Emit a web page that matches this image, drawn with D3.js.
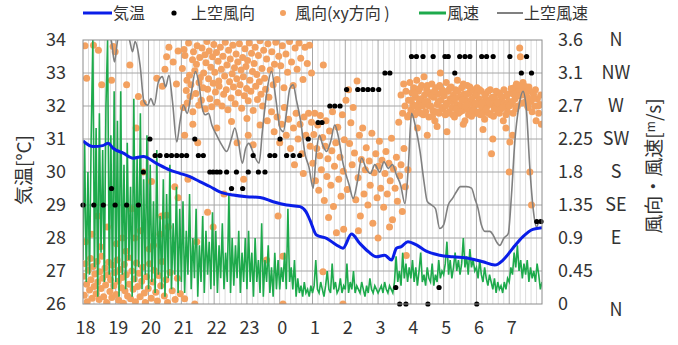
<!DOCTYPE html>
<html><head><meta charset="utf-8">
<script src="https://cdn.jsdelivr.net/npm/d3@7"></script>
<style>
body{margin:0;background:#fff}
svg{display:block}
text{font-family:"Noto Sans CJK JP","Noto Sans",sans-serif;fill:#333}
</style>
</head><body>
<svg id="c" width="678" height="345"></svg>
<script>
// ---------- DATA ----------
// time in hours after 18:00
const hourLabels = ["18","19","20","21","22","23","0","1","2","3","4","5","6","7"];
const tempTicks = [26,27,28,29,30,31,32,33,34];
const speedTicks = [0,0.45,0.9,1.35,1.8,2.25,2.7,3.15,3.6];
const speedTickLabels = ["0","0.45","0.9","1.35","1.8","2.25","2.7","3.1","3.6"];
const dirTickLabels = ["N","","E","SE","S","SW","W","NW","N"];

// 気温 (°C)
const tempT = [0,0.31,0.6,0.77,0.92,1.23,1.53,1.84,2.24,2.65,2.95,3.26,3.56,3.87,4.17,4.58,4.99,5.4,5.8,6.21,6.62,6.8,6.92,7.12,7.43,7.73,7.93,8.19,8.44,8.7,8.95,9.2,9.41,9.56,9.71,9.91,10.17,10.47,10.88,11.28,11.79,12.2,12.56,12.81,13.11,13.42,13.72,14];
const tempV = [30.94,30.77,30.8,30.87,30.72,30.57,30.42,30.47,30.26,30.06,29.96,29.86,29.71,29.56,29.4,29.3,29.25,29.23,29.1,29.0,28.95,28.8,28.55,28.09,27.99,27.79,27.69,28.12,27.84,27.59,27.43,27.48,27.33,27.69,27.74,27.89,27.79,27.6,27.48,27.43,27.38,27.28,27.18,27.33,27.69,28.04,28.26,28.31];

// 上空風速 (m/s)
const upperSpeedT = [0,0.4,0.78,0.88,0.96,1.04,1.15,1.3,1.43,1.51,1.59,1.66,1.74,1.86,1.97,2.07,2.17,2.3,2.42,2.52,2.62,2.73,2.86,2.96,3.06,3.18,3.31,3.43,3.54,3.63,3.73,3.83,3.93,4.08,4.23,4.38,4.53,4.63,4.74,4.86,4.96,5.06,5.16,5.26,5.37,5.47,5.6,5.75,5.88,6.01,6.11,6.21,6.31,6.41,6.51,6.64,6.77,6.89,7.02,7.12,7.21,7.31,7.43,7.55,7.68,7.78,7.94,8.12,8.24,8.37,8.5,8.63,8.77,8.9,9.05,9.18,9.31,9.44,9.56,9.69,9.82,9.92,10.02,10.15,10.28,10.4,10.5,10.63,10.75,10.88,11.0,11.14,11.27,11.39,11.51,11.7,11.85,11.95,12.05,12.15,12.26,12.41,12.51,12.61,12.71,12.84,12.97,13.07,13.17,13.3,13.42,13.52,13.63,13.73,13.83,13.94,14.0];
const upperSpeedV = [4.4,4.2,3.75,3.55,3.3,3.55,3.85,3.75,3.58,3.44,3.58,3.49,3.26,2.76,2.71,2.8,2.71,3.03,3.1,2.96,3.12,2.76,2.21,2.49,2.71,2.6,2.9,3.17,2.99,2.69,2.58,2.6,2.44,2.3,2.17,2.08,2.26,2.4,2.21,1.92,2.12,2.19,2.1,1.99,1.92,2.35,2.87,3.17,2.8,2.4,2.35,2.62,2.94,2.99,2.78,2.49,2.05,1.87,1.58,2.08,2.3,2.17,2.08,2.21,2.44,2.3,1.9,1.62,1.44,1.67,1.99,1.85,1.78,1.9,1.8,1.94,1.85,1.9,1.76,1.62,1.37,1.85,2.6,2.4,2.08,1.67,1.4,1.35,1.3,1.03,1.08,1.35,1.44,1.53,1.6,1.6,1.58,1.44,1.3,1.08,0.99,0.99,0.94,0.85,0.8,0.9,0.96,1.49,2.21,2.71,2.9,2.67,1.85,1.3,1.05,1.15,1.12];

// 風速 (m/s), 3-minute samples from 18:00, one row per hour
const windStep = 0.05;
const windSpeed = [
 0.6,2.2,0.3,1.8,0.4,2.3,3.6,0.5,2.4,0.1,2.6,0.7,2.1,0.3,2.7,3.6,0.4,2.3,0.2,2.9,
 0.3,2.5,0.1,2.9,0.4,1.9,0.2,2.2,0.6,1.6,0.1,2.8,0.3,2.0,0.5,2.6,0.2,1.7,0.4,2.3,
 0.2,1.9,0.3,1.4,0.15,2.1,0.4,1.2,0.2,1.7,0.1,1.5,0.35,1.9,0.2,1.1,0.4,1.6,0.15,1.3,
 0.3,1.4,0.15,1.0,0.4,1.5,0.2,0.9,0.35,1.3,0.1,0.8,0.3,1.2,0.15,1.0,0.4,0.85,0.2,1.25,
 0.25,1.0,0.15,0.8,0.35,1.1,0.2,0.7,0.3,1.5,0.15,0.9,0.25,0.8,0.35,1.0,0.15,0.7,0.3,0.9,
 0.2,1.0,0.3,0.7,0.1,0.9,0.3,0.6,0.15,1.1,0.1,0.6,0.3,0.8,0.15,0.5,0.1,0.7,0.2,0.6,
 0.2,0.5,0.3,0.7,0.2,1.3,0.3,0.5,0.2,0.6,0.1,0.35,0.15,0.25,0.1,0.3,0.15,0.2,0.1,0.25,
 0.15,0.25,0.6,0.2,0.15,0.3,0.2,0.1,0.25,0.45,0.2,0.15,0.55,0.2,0.3,0.15,0.2,0.35,0.15,0.25,
 0.2,0.55,0.15,0.3,0.2,0.45,0.15,0.25,0.2,0.15,0.3,0.2,0.1,0.25,0.15,0.35,0.2,0.15,0.25,0.2,
 0.15,0.2,0.25,0.15,0.3,0.2,0.15,0.25,0.2,0.15,0.3,0.65,0.3,0.45,0.25,0.7,0.35,0.55,0.3,0.5,
 0.35,0.6,0.3,0.5,0.25,0.45,0.7,0.3,0.4,0.25,0.5,0.35,0.3,0.55,0.25,0.4,0.3,0.6,0.35,0.45,
 0.4,0.55,0.85,0.4,0.6,0.35,0.5,0.7,0.45,0.6,0.4,0.55,0.9,0.5,0.65,0.4,0.75,0.5,0.6,0.45,
 0.5,0.35,0.6,0.4,0.3,0.5,0.35,0.25,0.4,0.3,0.2,0.35,0.15,0.3,0.2,0.25,0.15,0.3,0.2,0.35,
 0.3,0.5,0.4,0.7,0.5,0.8,0.45,0.6,0.35,0.55,0.4,0.6,0.3,0.5,0.35,0.45,0.3,0.55,0.4,0.2,
 0.3
];

// 上空風向 (direction on the right scale)
const upperDirT = [0,0.33,0.62,0.98,1.33,1.69,0.87,1.84,2.04,2.2,2.35,2.55,2.7,2.86,3.01,3.16,3.52,3.67,3.41,3.87,3.97,4.08,4.18,4.38,4.68,5.04,5.35,5.55,4.53,4.87,5.19,5.7,5.85,6.21,6.41,6.61,6.01,6.87,7.17,7.29,7.53,7.68,7.84,8.04,8.38,8.54,8.69,8.84,9.02,9.21,9.36,10.02,10.17,10.37,10.68,11.04,11.14,11.49,11.65,11.8,12.16,12.31,12.51,13.02,13.53,11.34,13.37,13.68,9.66,9.85,10.52,12.01,9.54,10.86,13.84,13.97];
const upperDirV = [1.35,1.35,1.35,1.35,1.35,1.35,1.575,1.8,2.25,2.025,2.025,2.025,2.025,2.025,2.025,2.025,2.025,2.025,2.25,1.8,1.8,1.8,1.8,1.8,1.8,1.8,1.8,1.8,1.575,1.575,2.025,2.025,2.025,2.025,2.025,2.025,2.25,2.25,2.475,2.475,2.7,2.7,2.7,2.925,2.925,2.925,2.925,2.925,2.925,3.15,3.15,3.375,3.375,3.375,3.375,3.375,3.375,3.375,3.375,3.375,3.375,3.375,3.375,3.375,3.375,3.15,3.15,3.15,0,0,0,0,0.225,0.225,1.125,1.125];

// 風向(xy方向) scatter [hour, value]
const windDirXY = [
 [0.06,3.52],[0.11,3.08],[0.32,3.53],[0.47,3.46],[0.57,2.99],[0.87,3.05],[0.92,3.51],[0.98,3.44],[1.33,2.99],[1.43,3.26],[1.69,2.83],[1.84,2.74],[2.25,3.08],[2.5,3.2],[2.55,3.37],[2.42,2.97],[1.62,2.4],[1.84,1.8],[2.09,1.67],[2.55,1.21],[2.8,1.6],[2.9,1.45],[2.4,1.2],[1.75,1.0],[0.45,1.2],[1.2,0.9],[2.6,1.05],[2.15,0.8],[1.48,1.3],
 [2.62,3.5],[2.75,3.3],[2.85,3.0],[2.9,3.45],
 [0.02,0.38],[0.04,0.12],[0.07,0.55],[0.11,0.27],[0.13,0.03],[0.16,0.46],[0.2,0.19],[0.23,0.62],[0.24,0.33],[0.28,0.08],[0.31,0.51],[0.34,0.24],[0.36,0.41],[0.4,0.14],[0.43,0.58],[0.45,0.3],[0.49,0.06],[0.51,0.44],[0.55,0.21],[0.57,0.65],[0.6,0.35],[0.63,0.1],[0.67,0.49],[0.69,0.26],[0.72,0.02],[0.76,0.4],[0.78,0.57],[0.82,0.17],[0.84,0.33],[0.88,0.09],[0.91,0.53],[0.94,0.25],[0.97,0.43],[1.01,0.13],[1.04,0.6],[1.07,0.31],[1.09,0.05],[1.13,0.47],[1.17,0.22],[1.19,0.36],[1.23,0.01],[1.26,0.54],[1.28,0.18],[1.32,0.4],[1.36,0.11],[1.39,0.63],[1.41,0.27],[1.45,0.07],[1.49,0.45],[1.53,0.2],[1.56,0.34],[1.6,0.03],[1.63,0.56],[1.67,0.24],[1.71,0.42],[1.74,0.1],[1.79,0.31],[1.82,0.5],[1.87,0.15],[1.9,0.02],[1.94,0.37],[1.99,0.21],[2.03,0.55],[2.08,0.08],[2.13,0.3],[2.17,0.46],[2.22,0.16],[2.27,0.04],[2.31,0.39],[2.37,0.25],[2.41,0.58],[2.48,0.11],[2.53,0.33],[2.58,0.02],[2.66,0.43],[2.72,0.18],[2.81,0.06],[2.88,0.35],[2.97,0.14],[3.1,0.07],[3.41,0.0],
 [0.08,0.85],[0.27,0.95],[0.53,0.78],[0.74,1.05],[1.02,0.82],[1.31,0.72],[1.58,0.9],[2.02,0.75],[2.35,0.95],
 [3.03,3.21],[3.06,2.68],[3.08,3.47],[3.11,3.39],[3.15,2.91],[3.17,3.05],[3.18,2.74],[3.22,3.56],[3.25,3.12],[3.27,2.83],[3.29,2.99],[3.34,3.33],[3.35,2.62],[3.37,3.44],[3.41,3.18],[3.44,2.87],[3.46,3.27],[3.48,3.52],[3.53,2.71],[3.54,3.02],[3.56,3.36],[3.58,3.09],[3.61,2.78],[3.63,3.49],[3.66,2.95],[3.68,3.15],[3.72,3.4],[3.73,2.66],[3.75,3.29],[3.78,3.58],[3.8,2.93],[3.83,3.07],[3.85,3.45],[3.87,2.8],[3.9,3.23],[3.93,2.69],[3.95,3.37],[3.97,3.01],[3.99,3.54],
 [4.02,3.16],[4.04,2.89],[4.07,3.43],[4.09,2.75],[4.12,3.31],[4.14,3.04],[4.15,2.97],[4.19,3.5],[4.22,3.2],[4.24,2.7],[4.27,3.38],[4.29,2.86],[4.32,3.11],[4.34,3.57],[4.37,2.92],[4.39,3.26],[4.42,2.65],[4.44,3.46],[4.47,3.03],[4.49,3.34],[4.52,2.81],[4.55,3.14],[4.57,3.53],[4.59,2.96],[4.62,3.22],[4.64,2.73],[4.67,3.41],[4.69,3.07],[4.72,3.3],[4.74,2.88],[4.77,3.55],[4.79,2.99],[4.82,3.19],[4.84,2.67],[4.87,3.36],[4.89,3.1],[4.92,2.84],[4.94,3.48],[4.97,3.24],[4.99,2.94],
 [5.02,3.32],[5.04,2.77],[5.07,3.56],[5.09,3.05],[5.12,2.9],[5.14,3.42],[5.17,3.17],[5.19,2.64],[5.22,3.28],[5.25,3.5],[5.27,2.97],[5.3,3.13],[5.32,2.79],[5.35,3.39],[5.38,3.03],[5.4,3.59],[5.43,2.86],[5.46,3.21],[5.48,2.7],[5.51,3.46],[5.54,3.08],[5.57,2.93],[5.6,3.34],[5.64,3.55],[5.67,2.82],[5.71,3.19],[5.76,3.44],[5.8,2.99],[5.84,3.27],[5.88,3.57],[5.92,3.06],[5.97,3.38],
 [6.03,3.25],[6.08,3.52],[6.13,2.95],[6.19,3.41],[6.24,3.16],[6.3,3.58],[6.36,3.3],[6.41,2.98],[6.47,3.49],[6.53,3.2],[6.59,3.56],[6.64,3.35],[6.71,3.06],[6.77,3.5],[6.84,3.28],[6.91,3.53],[6.97,3.15],
 [5.62,2.5],[5.75,2.62],[5.83,2.35],[5.92,2.55],[6.0,2.2],[6.06,2.45],[6.14,2.68],[6.2,2.3],[6.27,2.52],[6.33,2.12],[6.42,2.4],[6.5,2.6],[6.56,2.25],[6.62,2.45],[6.68,2.05],[6.74,2.55],[6.8,2.3],[6.88,2.6],[6.93,2.15],[6.45,1.9],[6.72,1.78],
 [3.1,2.3],[3.35,2.45],[3.5,2.2],[3.47,0.85],[3.97,1.05],[4.08,2.4],[4.53,2.49],[4.7,2.2],[5.0,2.53],[5.04,2.3],[5.19,2.17],[5.4,2.44],[4.3,1.5],[3.8,1.25],[5.6,0.6],[4.9,1.7],[3.2,1.7],[6.1,0.0],[6.1,0.65],[5.95,1.2],
 [6.97,2.48],[7.01,1.92],[7.04,2.31],[7.07,2.6],[7.09,1.68],[7.13,2.12],[7.16,2.44],[7.19,1.55],[7.22,2.02],[7.24,2.57],[7.27,1.83],[7.31,2.27],[7.33,3.26],[7.36,1.41],[7.39,2.15],[7.41,2.5],[7.44,1.74],[7.47,1.98],[7.49,1.18],[7.52,2.36],[7.56,1.62],[7.59,2.09],[7.61,2.62],[7.64,1.33],[7.67,1.88],[7.71,2.2],[7.73,0.97],[7.77,2.41],[7.8,1.7],[7.84,2.0],[7.87,1.47],[7.91,2.58],[7.94,1.81],[7.97,2.24],[8.02,2.78],[8.06,1.56],[8.1,2.92],[8.13,2.19],[8.17,2.47],[8.21,1.9],[8.24,2.68],[8.28,2.06],[8.32,1.42],[8.36,3.04],[8.39,1.72],[8.43,2.3],[8.46,1.2],[8.49,1.97],[8.53,2.4],[8.57,1.5],[8.61,1.83],[8.64,2.13],[8.69,1.35],[8.73,1.95],[8.76,1.62],[8.81,2.33],[8.84,1.1],[8.88,1.79],[8.93,2.05],[8.97,1.45],[9.01,1.88],[9.04,2.22],[9.08,1.58],[9.12,1.96],[9.17,1.32],[9.21,1.78],[9.24,2.08],[9.28,1.5],[9.33,1.92],[9.37,1.68],[9.41,2.26],[9.44,1.15],[9.47,1.84],[9.52,1.58],[9.56,2.0],[9.59,1.4],[9.63,2.48],[9.66,1.75],[9.7,1.9],[9.74,1.26],[9.79,2.12],[9.83,1.6],[9.86,0.66],[9.91,1.83],[9.96,2.58],[7.93,0.0],[7.32,0.44],[7.95,1.02],[8.4,1.0],[9.0,0.9],[9.35,1.05],
 [9.7,2.85],[9.75,2.6],[9.78,3.0],[9.82,2.7],[9.85,2.9],[9.9,2.55],[9.93,2.78],[9.97,3.02],[10.0,2.65],[10.03,2.88],[10.06,2.72],[10.09,2.95],[10.12,2.58],[10.15,2.82],[10.18,3.05],[10.2,2.68],[10.23,2.9],[10.26,2.75],[10.3,2.6],[10.33,2.98],[10.36,2.7],[10.4,3.1],[10.42,2.85],[10.45,2.62],[10.48,2.92],[10.52,2.76],[10.55,2.55],[10.58,2.88],[10.6,2.7],[10.64,3.0],[10.67,2.64],[10.7,2.82],[10.73,2.5],[10.76,2.95],[10.8,2.72],[10.83,2.86],[10.86,2.6],[10.9,3.15],[10.92,2.78],[10.95,2.92],[10.98,2.66],[11.02,2.84],[11.05,2.58],[11.08,3.02],[11.1,2.74],[11.14,2.9],[11.17,2.62],[11.2,2.8],[11.23,2.96],[11.26,2.68],[11.3,2.85],[11.33,2.55],[11.36,2.92],[11.4,2.72],[11.42,3.05],[11.45,2.6],[11.48,2.82],[11.52,2.7],[11.55,2.95],[11.58,2.64],[11.62,2.86],[11.65,2.5],[11.68,2.78],[11.72,2.98],[11.75,2.66],[11.78,2.88],[11.82,2.74],[11.85,2.56],[11.88,2.92],[11.92,2.7],[11.95,2.84],[11.98,2.6],[12.02,2.95],[12.05,2.72],[12.08,2.8],[12.12,2.58],[12.15,2.9],[12.18,2.68],[12.22,2.76],[12.25,2.52],[12.28,2.86],[12.32,2.7],[12.35,2.78],[12.38,2.6],[12.42,2.92],[12.45,2.72],[12.46,2.05],[12.5,2.74],[12.52,2.56],[12.55,2.82],[12.58,2.7],[12.62,2.76],[12.65,2.62],[12.68,2.88],[12.72,2.72],[12.75,2.66],[12.78,2.78],[12.82,2.5],[12.85,2.74],[12.88,2.7],[12.92,2.84],[12.95,2.62],[12.98,2.76],[13.02,2.21],[13.0,1.8],[13.05,2.72],[13.08,2.88],[13.12,2.6],[13.15,2.95],[13.18,2.8],[13.22,3.0],[13.25,2.7],[13.28,2.9],[13.32,3.49],[13.34,3.37],[13.36,2.98],[13.4,2.85],[13.42,3.02],[13.45,2.92],[13.48,2.75],[13.52,2.96],[13.55,2.82],[13.58,2.68],[13.62,2.9],[13.63,1.8],[13.66,2.76],[13.68,1.35],[13.7,2.62],[13.74,2.86],[13.78,2.7],[13.82,2.5],[13.86,2.8],[13.9,2.6],[13.94,2.72],[13.98,2.45],
 [10.01,2.78],[10.07,2.6],[10.11,2.86],[10.14,2.7],[10.22,2.64],[10.27,2.94],[10.31,2.8],[10.38,2.58],[10.44,2.76],[10.5,2.98],[10.56,2.7],[10.62,2.84],[10.66,2.56],[10.72,2.9],[10.78,2.62],[10.84,2.76],[10.88,2.98],[10.94,2.68],[11.0,2.9],[11.06,2.7],[11.12,2.6],[11.18,2.94],[11.24,2.76],[11.28,2.58],[11.34,2.8],[11.38,2.66],[11.44,2.9],[11.5,2.62],[11.56,2.78],[11.6,3.0],[11.66,2.7],[11.7,2.86],[11.76,2.58],[11.8,2.96],[11.86,2.8],[11.9,2.64],[11.96,2.74],[12.0,2.86],[12.06,2.62],[12.1,2.92],[12.16,2.74],[12.2,2.6],[12.26,2.84],[12.3,2.66],[12.36,2.9],[12.4,2.74],[12.44,2.58],[12.48,2.82],[12.54,2.66],[12.6,2.9],[12.64,2.74],[12.7,2.6],[12.74,2.84],[12.8,2.68],[12.84,2.92],[12.9,2.58],[12.96,2.86],[13.0,2.7],[13.06,2.94],[13.1,2.76],[13.14,2.86],[13.2,2.66],[13.26,2.98],[13.3,2.84],[13.38,2.74],[13.44,2.98],[13.5,2.88],[13.56,2.7],[13.6,2.96],[13.72,2.8],[13.8,2.92],[13.88,2.7],[13.96,2.85],
 [10.2,2.4],[10.5,2.3],[10.8,2.42],[11.1,2.35],[11.6,2.45],[12.2,2.38],[12.5,2.25],[12.9,2.4],[13.1,2.3]
];

// ---------- CHART ----------
const svg = d3.select("#c");
const L = 83, R = 542, T = 40, B = 304;
const x = d3.scaleLinear().domain([0,14]).range([L,R]);
const yT = d3.scaleLinear().domain([26,34]).range([B,T]);
const yR = d3.scaleLinear().domain([0,3.6]).range([B,T]);

svg.append("defs").append("clipPath").attr("id","clip")
  .append("rect").attr("x",L).attr("y",T).attr("width",R-L).attr("height",B-T);

// minor vertical grid (10 min)
const minor = d3.range(1,84).map(i=>i/6).filter(v=>Math.abs(v-Math.round(v))>1e-6);
svg.append("g").selectAll("line").data(minor).join("line")
  .attr("x1",d=>x(d)).attr("x2",d=>x(d)).attr("y1",T).attr("y2",B)
  .attr("stroke","#dcdcdc").attr("stroke-width",1);
// major vertical grid
svg.append("g").selectAll("line").data(d3.range(1,14)).join("line")
  .attr("x1",d=>x(d)).attr("x2",d=>x(d)).attr("y1",T).attr("y2",B)
  .attr("stroke","#a6a6a6").attr("stroke-width",1);
// horizontal grid
svg.append("g").selectAll("line").data(tempTicks.slice(1,-1)).join("line")
  .attr("x1",L).attr("x2",R).attr("y1",d=>yT(d)).attr("y2",d=>yT(d))
  .attr("stroke","#a6a6a6").attr("stroke-width",1);

const plot = svg.append("g").attr("clip-path","url(#clip)");

// 風向(xy方向)
plot.append("g").selectAll("circle").data(windDirXY).join("circle")
  .attr("cx",d=>x(d[0])).attr("cy",d=>yR(d[1])).attr("r",3.5)
  .attr("fill","#f3a160");

// 風速
plot.append("path").datum(windSpeed)
  .attr("fill","none").attr("stroke","#1eaa4c").attr("stroke-width",1.6)
  .attr("d",d3.line().x((d,i)=>x(i*windStep)).y(d=>yR(d)));

// 上空風速
plot.append("path").datum(upperSpeedT.map((t,i)=>[t,upperSpeedV[i]]))
  .attr("fill","none").attr("stroke","#808080").attr("stroke-width",1.6)
  .attr("d",d3.line().x(d=>x(d[0])).y(d=>yR(d[1])).curve(d3.curveMonotoneX));

// 気温
plot.append("path").datum(tempT.map((t,i)=>[t,tempV[i]]))
  .attr("fill","none").attr("stroke","#0a1ee8").attr("stroke-width",3)
  .attr("d",d3.line().x(d=>x(d[0])).y(d=>yT(d[1])).curve(d3.curveMonotoneX));

// 上空風向
svg.append("g").selectAll("circle").data(upperDirT.map((t,i)=>[t,upperDirV[i]])).join("circle")
  .attr("cx",d=>x(d[0])).attr("cy",d=>yR(d[1])).attr("r",2.6)
  .attr("fill","#000");

// frame
svg.append("rect").attr("x",L).attr("y",T).attr("width",R-L).attr("height",B-T)
  .attr("fill","none").attr("stroke","#8c8c8c").attr("stroke-width",1);

// axes
const fam = '"Noto Sans CJK JP",sans-serif';
const ax = svg.append("g").attr("transform",`translate(${L},0)`)
  .call(d3.axisLeft(yT).tickValues(tempTicks).tickSize(0).tickPadding(17).tickFormat(d3.format("d")));
ax.select(".domain").remove();
ax.selectAll("text").attr("font-size",18).attr("fill","#333").style("font-family",fam);

const bx = svg.append("g").attr("transform",`translate(2,${B})`)
  .call(d3.axisBottom(x).tickValues(d3.range(0,14)).tickSize(0).tickPadding(17).tickFormat((d,i)=>hourLabels[i]));
bx.select(".domain").remove();
bx.selectAll("text").attr("font-size",18).attr("fill","#333").style("font-family",fam);

const rx = svg.append("g").attr("transform",`translate(${R},0)`)
  .call(d3.axisRight(yR).tickValues(speedTicks).tickSize(0).tickPadding(16).tickFormat((d,i)=>speedTickLabels[i]));
rx.select(".domain").remove();
rx.selectAll("text").attr("font-size",18).attr("fill","#333").style("font-family",fam);

const dx = svg.append("g").attr("transform",`translate(${R},0)`)
  .call(d3.axisRight(yR).tickValues(speedTicks).tickSize(0).tickFormat((d,i)=>dirTickLabels[i]));
dx.select(".domain").remove();
dx.selectAll("text").attr("x",74).attr("text-anchor","middle").attr("font-size",18).attr("fill","#333")
  .style("font-family",fam)
  .attr("dy",(d,i)=> i===0 ? "0.62em" : "0.32em");

// axis titles
svg.append("text").attr("transform","translate(31,170) rotate(-90)")
  .attr("text-anchor","middle").attr("font-size",19).text("気温[°C]");
const rt = svg.append("text").attr("transform","translate(661,166) rotate(-90)")
  .attr("text-anchor","middle").attr("font-size",19);
rt.append("tspan").text("風向・風速[");
rt.append("tspan").attr("font-size",12).attr("dy",-6).text("m");
rt.append("tspan").attr("dy",6).text("/s]");

// legend
const lg = svg.append("g").attr("font-size",16);
lg.append("line").attr("x1",83).attr("x2",112).attr("y1",13).attr("y2",13).attr("stroke","#0a1ee8").attr("stroke-width",3);
lg.append("text").attr("x",113).attr("y",19).text("気温");
lg.append("circle").attr("cx",174).attr("cy",13).attr("r",2.6).attr("fill","#000");
lg.append("text").attr("x",191).attr("y",19).text("上空風向");
lg.append("circle").attr("cx",283).attr("cy",13).attr("r",3).attr("fill","#f3a160");
lg.append("text").attr("x",295).attr("y",19).text("風向(xy方向 )");
lg.append("line").attr("x1",419).attr("x2",446).attr("y1",13).attr("y2",13).attr("stroke","#1eaa4c").attr("stroke-width",3);
lg.append("text").attr("x",447).attr("y",19).text("風速");
lg.append("line").attr("x1",497).attr("x2",523).attr("y1",13).attr("y2",13).attr("stroke","#808080").attr("stroke-width",2);
lg.append("text").attr("x",524).attr("y",19).text("上空風速");
</script>
</body></html>
